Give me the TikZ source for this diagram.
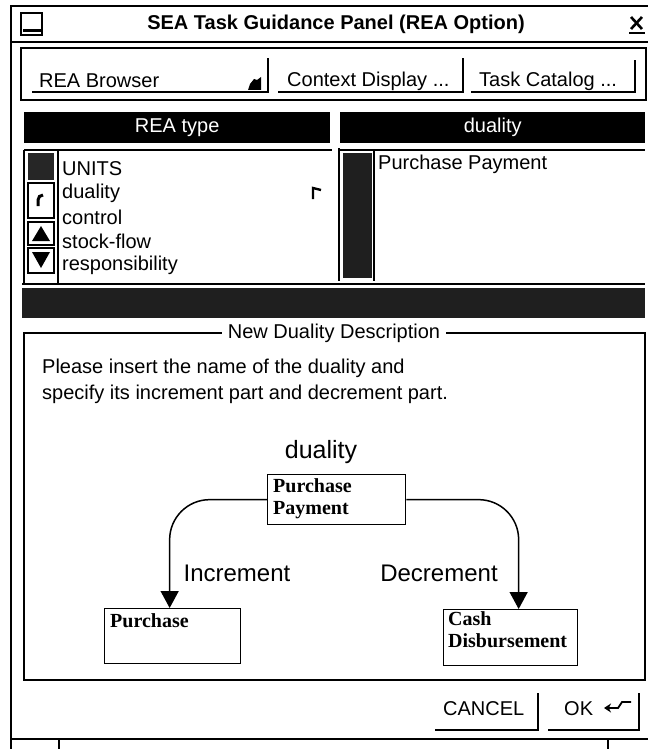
\documentclass[tikz,border=0pt]{standalone}
\usepackage{fontspec}
\setmainfont{Liberation Sans}
\newfontfamily\boxfont{Liberation Serif}
\usetikzlibrary{arrows.meta}
\begin{document}
\begin{tikzpicture}[x=1pt,y=-1pt,
  ui/.style={font=\fontsize{20}{22}\selectfont,inner sep=0pt},
  uiwest/.style={ui,anchor=west},
  uititle/.style={font=\bfseries\fontsize{20}{22}\selectfont,inner sep=0pt},
  big/.style={font=\fontsize{24}{26}\selectfont,inner sep=0pt},
  header/.style={fill=black,text=white,font=\fontsize{20}{22}\selectfont,inner sep=0pt,anchor=north west},
  entity/.style={draw,line width=1.3pt,inner sep=0pt,anchor=north west},
  entitytext/.style={font=\boxfont\bfseries\fontsize{20}{22}\selectfont,align=left,inner sep=0pt,anchor=north west},
  frameline/.style={line width=1.2pt},
  shadowline/.style={line width=2.4pt},
  flow/.style={line width=1.5pt,rounded corners=40pt,-{Triangle[width=18pt,length=17pt]}},
]
\useasboundingbox (0,0) rectangle (648,749);

% ---- window frame and title bar ----
\draw[frameline] (11,749) -- (11,6) -- (648,6);
\draw[line width=2.2pt] (11,42) -- (648,42);
\draw[frameline] (11,739) -- (648,739);
\draw[frameline] (59,740) -- (59,749);
\draw[frameline] (608,740) -- (608,749);
% window menu icon
\draw[line width=1.4pt] (21,13) rectangle (42,35);
\draw[line width=3pt] (23,31) -- (42,31);
\node[uititle] (title) at (336,24) {SEA Task Guidance Panel (REA Option)};
% close mark
\draw[line width=2.6pt] (631,17) -- (642,29) (642,17) -- (631,29);
\draw[line width=2pt] (629,33) -- (645,33);

% ---- button bar ----
\draw[frameline] (646,48) -- (21,48) -- (21,100) -- (646,100) -- cycle;
\node[uiwest] (btnbrowser) at (39,81) {REA Browser};
\draw[shadowline] (32,92) -- (268,92) -- (268,58);
\fill (248,90) -- (261,90) -- (261,77) -- (257,80) -- (254,79) -- (250,84) -- cycle;
\node[uiwest] (btncontext) at (287,81) {Context Display ...};
\draw[shadowline] (278,92) -- (463,92) -- (463,58);
\node[uiwest] (btncatalog) at (479,81) {Task Catalog ...};
\draw[shadowline] (471,92) -- (635,92) -- (635,60);

% ---- column headers ----
\node[header,minimum width=306,minimum height=31] (hdrtype) at (24,112) {REA type};
\node[header,minimum width=305,minimum height=31] (hdrduality) at (340,112) {duality};

% ---- left list: REA types ----
\draw[line width=2pt] (24,150) -- (332,150);
\draw[frameline] (24,150) -- (24,284);
\draw[frameline] (58,150) -- (58,284);
\fill[black!85] (28,153) rectangle (54,180);
\draw[frameline] (28,183) rectangle (54,218);
\draw[line width=3pt] (38,206) -- (38,200) arc[start angle=180,end angle=90,radius=5pt];
\draw[frameline] (28,222) rectangle (54,245);
\fill (41,226) -- (50,241) -- (32,241) -- cycle;
\draw[frameline] (28,248) rectangle (54,273);
\fill (32,252) -- (50,252) -- (41,268) -- cycle;
\node[uiwest] (itunits) at (62,169) {UNITS};
\node[uiwest] (itduality) at (62,193) {duality};
\node[uiwest] (itcontrol) at (62,217) {control};
\node[uiwest] (itstock) at (62,241) {stock-flow};
\node[uiwest] (itresp) at (62,265) {responsibility};
% mouse cursor
\draw[line width=2.4pt] (313,199) -- (313,188) -- (321,190);

% ---- right list: dualities ----
\draw[frameline] (339,148) -- (339,281);
\draw[line width=2pt] (339,150) -- (645,150);
\fill[black!88] (343,153) rectangle (372,278);
\draw[frameline] (374,150) -- (374,281);
\node[uiwest] (itpp) at (378,164) {Purchase Payment};

% ---- status strip ----
\draw[line width=2pt] (22,284) -- (645,284);
\fill[black!88] (22,288) rectangle (645,318);

% ---- description group ----
\draw[frameline] (24,333) rectangle (645,680);
\node[ui,fill=white,inner xsep=6pt] (grouptitle) at (334,333) {New Duality Description};
\node[uiwest] (help1) at (42,368) {Please insert the name of the duality and};
\node[uiwest] (help2) at (42,394) {specify its increment part and decrement part.};

% duality diagram
\node[font=\fontsize{25}{27}\selectfont,inner sep=0pt] (dualitylabel) at (321,452) {duality};
\node[entity,minimum width=138,minimum height=50] (pp) at (267,474) {};
\node[entitytext] (pptext) at (273,478) {Purchase\\Payment};
\node[entity,minimum width=136,minimum height=55] (pur) at (104,608) {};
\node[entitytext] (purtext) at (110,613) {Purchase};
\node[entity,minimum width=134,minimum height=56] (cash) at (443,609) {};
\node[entitytext] (cashtext) at (448,611) {Cash\\Disbursement};
\node[big] (inclabel) at (237,573) {Increment};
\node[big] (declabel) at (439,573) {Decrement};
\draw[flow] (pp.west) -| ([xshift=-3pt]pur.north);
\draw[flow] (pp.east) -| ([xshift=8pt]cash.north);

% ---- dialog buttons ----
\node[uiwest] (btncancel) at (443,709) {CANCEL};
\draw[shadowline] (435,730) -- (538,730) -- (538,693);
\node[uiwest] (btnok) at (564,709) {OK};
\draw[line width=1.8pt,-{Stealth[length=7pt,width=9pt]}] (631,702) -- (622,702) -- (618,708) -- (604,708);
\draw[shadowline] (548,730) -- (639,730) -- (639,693);
\end{tikzpicture}
\end{document}
